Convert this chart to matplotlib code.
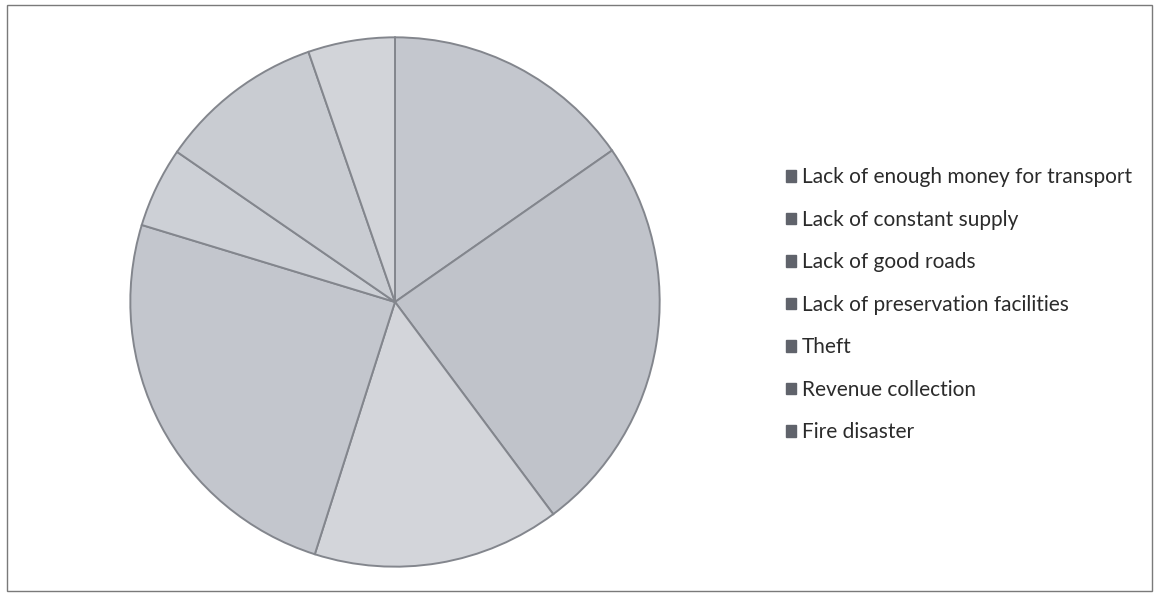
import matplotlib.pyplot as plt
from matplotlib.patches import Patch, Rectangle

# problems reported (share of respondents)
labels = [
    "Lack of enough money for transport",
    "Lack of constant supply",
    "Lack of good roads",
    "Lack of preservation facilities",
    "Theft",
    "Revenue collection",
    "Fire disaster",
]
shares = [15.3, 24.5, 15.1, 24.8, 4.9, 10.1, 5.3]

# washed-out greys of the scanned print
fills = ["#c4c7ce", "#c0c3ca", "#d3d5da", "#c3c6cd", "#cdd0d6", "#c9ccd2", "#d2d4d9"]

W, H = 1154, 595
fig = plt.figure(figsize=(W / 100, H / 100), dpi=100)
fig.patch.set_facecolor("white")

# outer frame of the chart area
fig.patches.append(Rectangle((7 / W, 4 / H), 1145 / W, 586 / H, transform=fig.transFigure,
                             fill=False, edgecolor="#7a7a7a", linewidth=1.0))

# pie: centre (395, 302) px, radius 266 px
cx, cy, r = 395, 302, 266
ax = fig.add_axes([(cx - r) / W, (H - cy - r) / H, 2 * r / W, 2 * r / H])
wedges, _ = ax.pie(shares, colors=fills, startangle=90, counterclock=False,
                   radius=1.0,
                   wedgeprops=dict(edgecolor="#83868d", linewidth=1.4))
ax.set_xlim(-1.005, 1.005)
ax.set_ylim(-1.005, 1.005)
ax.set_aspect("equal")
ax.axis("off")

handles = [Patch(facecolor="#60636b", edgecolor="#60636b") for _ in labels]
leg = fig.legend(handles, labels, loc="upper left",
                 bbox_to_anchor=(778 / W, 1 - 159 / H),
                 frameon=False, prop={"family": "Lato", "size": 15},
                 labelcolor="#2b2b2b", handlelength=0.45, handleheight=0.45,
                 handletextpad=0.3, labelspacing=1.08, borderaxespad=0)

fig.savefig("out.png", dpi=100)
